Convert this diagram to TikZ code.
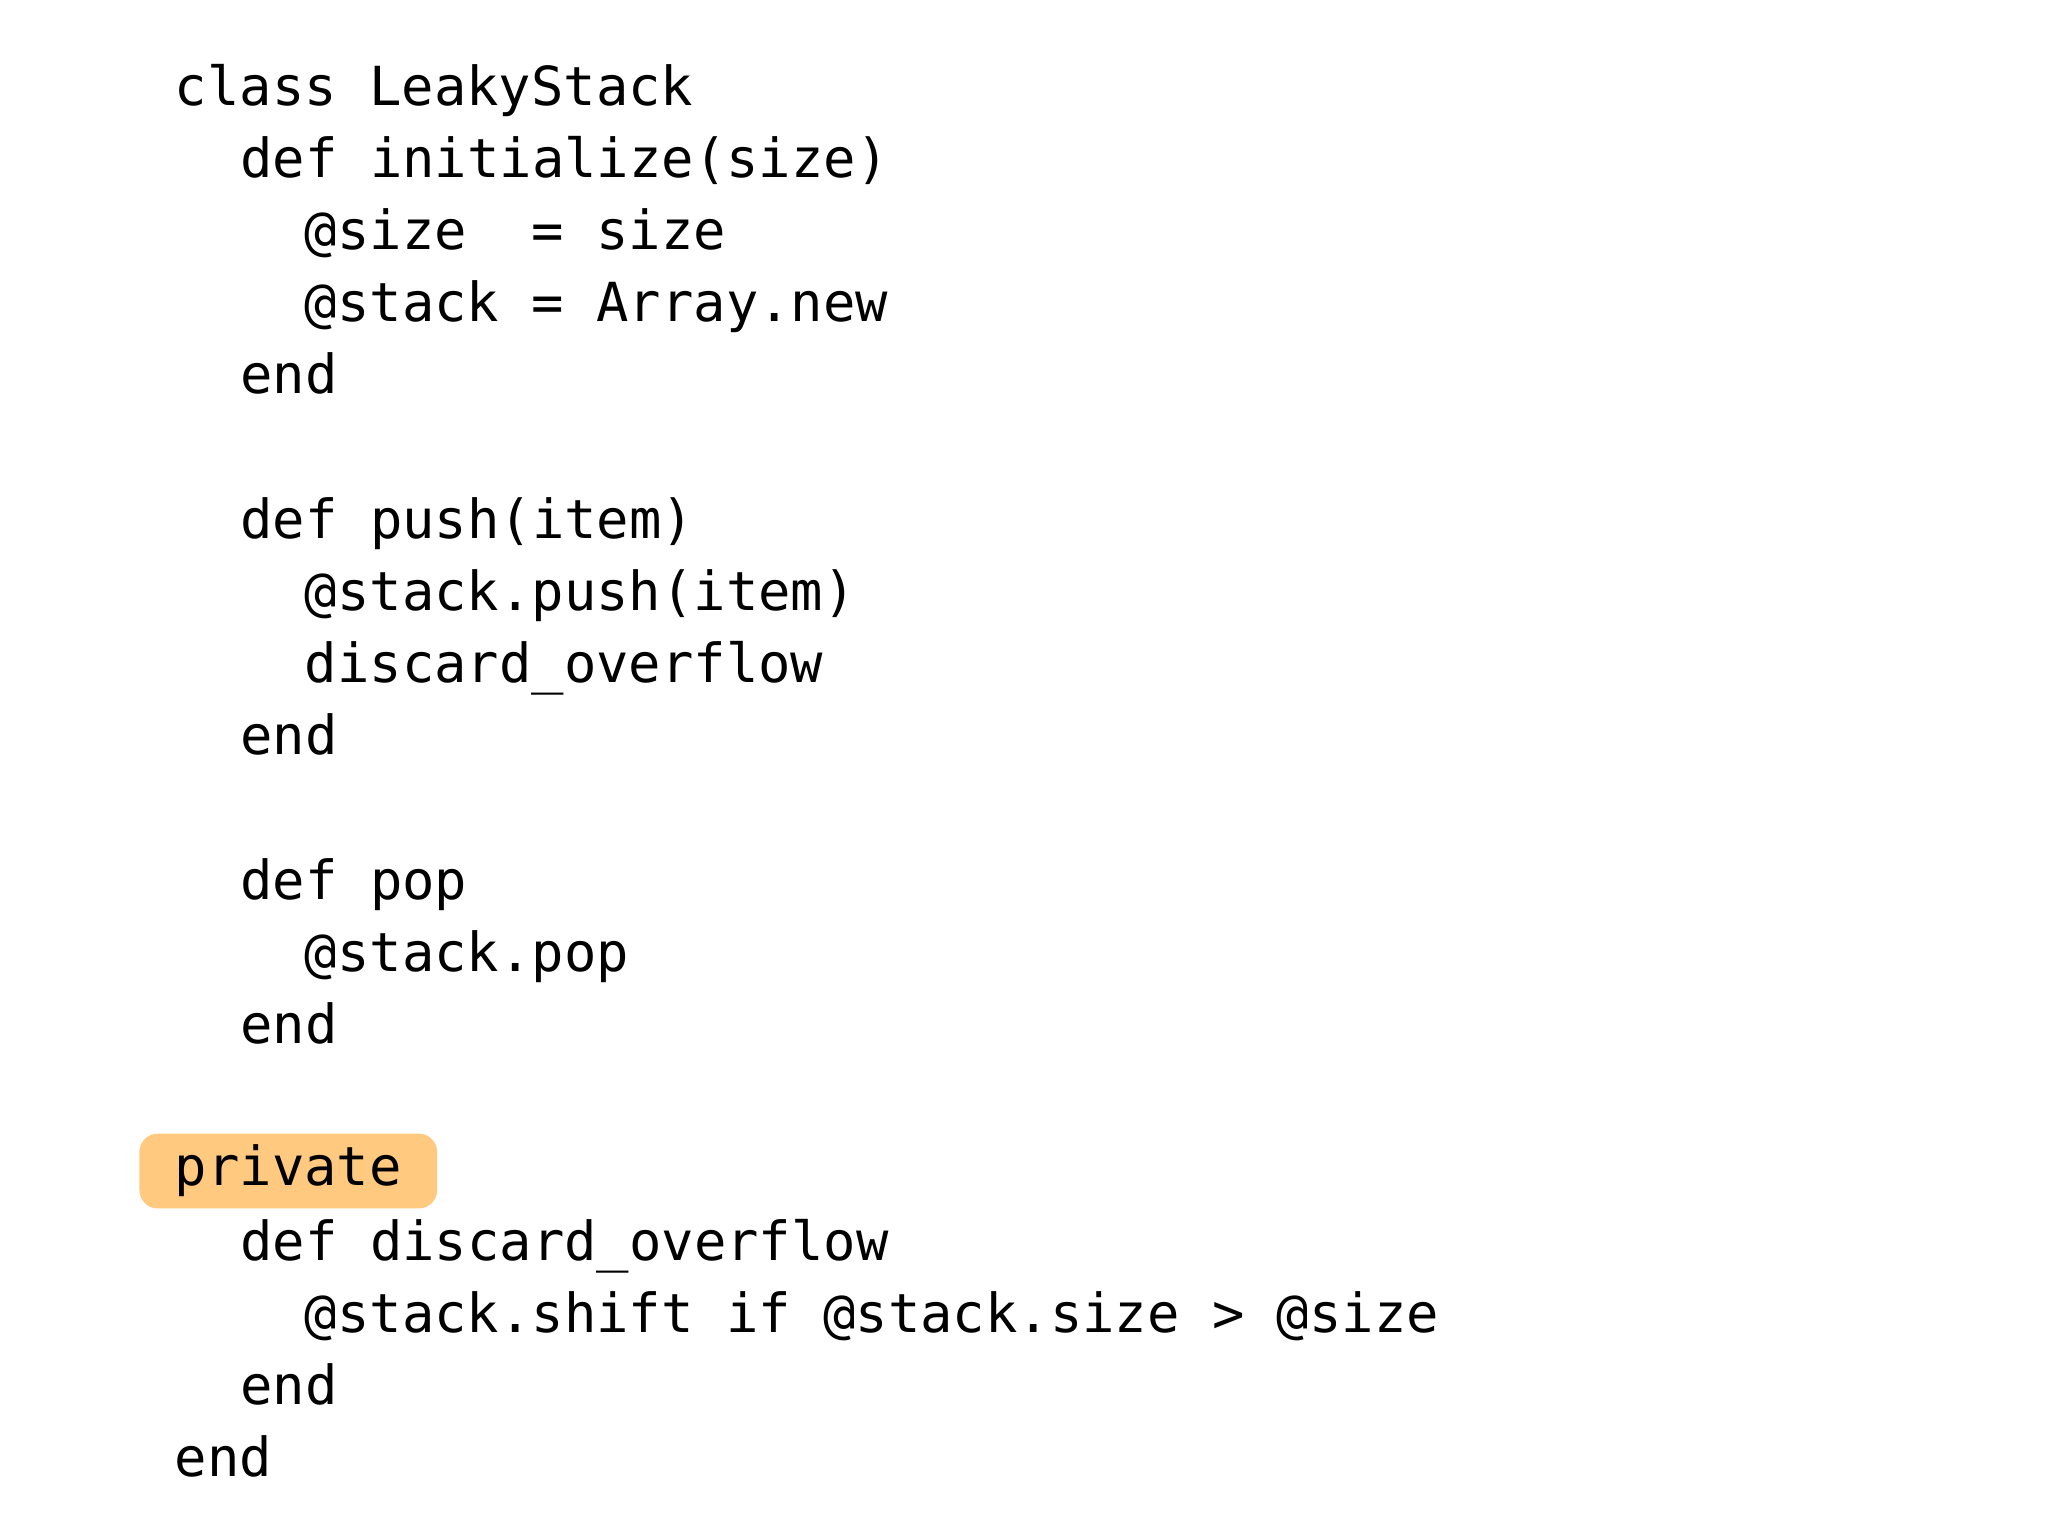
\documentclass[tikz,border=0pt]{standalone}
\usepackage{fontspec}
\setmonofont{DejaVu Sans Mono}
\definecolor{hl}{HTML}{FFCA80}
\begin{document}
\begin{tikzpicture}[x=1pt,y=-1pt,
  code/.style={anchor=base west,inner sep=0pt,font=\ttfamily\fontsize{41}{50}\selectfont}]
\useasboundingbox (0,0) rectangle (1560,1170);
\fill[white] (0,0) rectangle (1560,1170);
\def\ind#1{\ifcase#1 133\or 183\or 232\fi}
\node[code] (l0) at (133,80) {class LeakyStack};
\node[code] (l1) at (183,135) {def initialize(size)};
\node[code] (l2) at (232,190) {@size\ \ = size};
\node[code] (l3) at (232,245) {@stack = Array.new};
\node[code] (l4) at (183,300) {end};
\node[code] (l6) at (183,410) {def push(item)};
\node[code] (l7) at (232,465) {@stack.push(item)};
\node[code] (l8) at (232,520) {discard\_overflow};
\node[code] (l9) at (183,575) {end};
\node[code] (l11) at (183,685) {def pop};
\node[code] (l12) at (232,740) {@stack.pop};
\node[code] (l13) at (183,795) {end};
\node[font=\ttfamily\fontsize{41}{50}\selectfont,fill=hl,rounded corners=14pt,
  anchor=west,minimum height=57pt,inner xsep=27pt,inner ysep=0pt] (l15) at (106,892) {private};
\node[code] (l16) at (183,960) {def discard\_overflow};
\node[code] (l17) at (232,1015) {@stack.shift if @stack.size > @size};
\node[code] (l18) at (183,1070) {end};
\node[code] (l19) at (133,1125) {end};
\end{tikzpicture}
\end{document}
